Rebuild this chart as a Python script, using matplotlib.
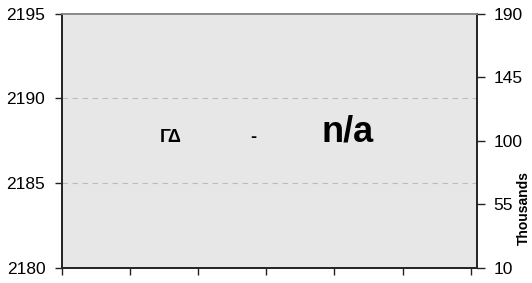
import matplotlib
matplotlib.use("Agg")
import matplotlib.pyplot as plt

# ---------------------------------------------------------------
# Chart data
# ---------------------------------------------------------------
left_ticks = [2180, 2185, 2190, 2195]
right_ticks = [10, 55, 100, 145, 190]
grid_levels = [2185, 2190]
x_ticks = [0, 1, 2, 3, 4, 5, 6]

labels = ["ΓΔ", "-", "n/a"]
label_x = [1.60, 2.81, 4.19]
label_y = [2187.45, 2187.45, 2187.45]
label_size = [13, 13, 26]

right_axis_title = "Thousands"

# ---------------------------------------------------------------
# Figure
# ---------------------------------------------------------------
plt.rcParams['font.family'] = ['Liberation Sans', 'DejaVu Sans']

fig = plt.figure(figsize=(5.32, 2.83), dpi=100)
ax = fig.add_axes([0.1165, 0.053, 0.7795, 0.899])
ax.set_facecolor('#e7e7e7')

ax.set_xlim(0, 6.088)
ax.set_ylim(left_ticks[0], left_ticks[-1])
ax.set_yticks(left_ticks)
ax.set_xticks(x_ticks)
ax.set_xticklabels([])

for g in grid_levels:
    ax.axhline(g, color='#bcbcbc', lw=0.8, ls=(0, (5, 4)), zorder=1)

for txt, x, y, s in zip(labels, label_x, label_y, label_size):
    ax.text(x, y, txt, ha='center', va='baseline', fontsize=s,
            fontweight='bold', color='black', zorder=3)

ax2 = ax.twinx()
ax2.set_ylim(right_ticks[0], right_ticks[-1])
ax2.set_yticks(right_ticks)

for a in (ax, ax2):
    for side in ('left', 'right', 'bottom'):
        a.spines[side].set_color('#222222')
        a.spines[side].set_linewidth(1.2)
    a.spines['top'].set_color('#8a8a8a')
    a.spines['top'].set_linewidth(1.2)

ax.tick_params(axis='y', direction='out', length=5, width=1, pad=7,
               labelsize=12.5, color='#222222')
ax.tick_params(axis='x', direction='out', length=5, width=1, color='#222222')
ax2.tick_params(axis='y', direction='out', length=6, width=1, pad=6,
                labelsize=12.5, color='#222222')

fig.text(524 / 532, 1 - 208 / 283, right_axis_title, rotation=90,
         ha='center', va='center', fontsize=10, fontweight='bold')

fig.savefig("out.png", dpi=100)
